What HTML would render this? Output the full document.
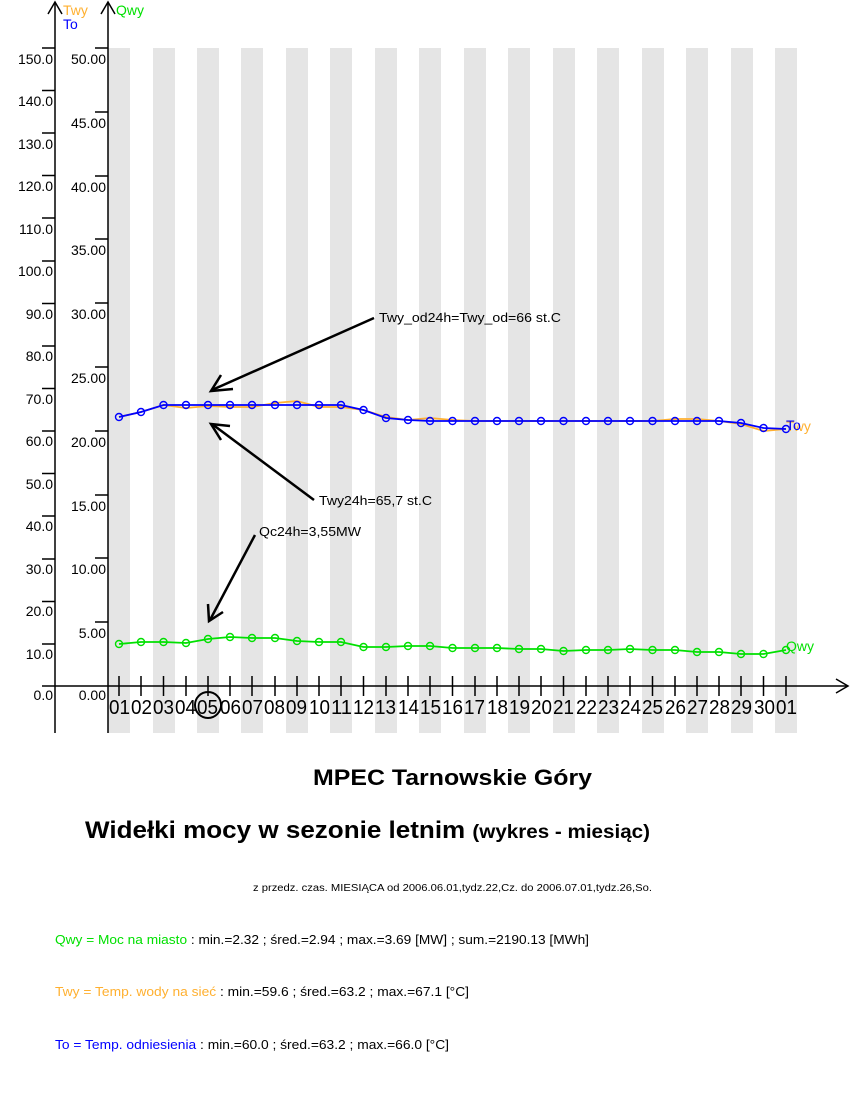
<!DOCTYPE html>
<html><head><meta charset="utf-8"><style>
body{margin:0;background:#fff;width:850px;height:1100px;overflow:hidden}
svg{display:block}
text{font-family:"Liberation Sans",sans-serif}
</style></head><body>
<svg width="850" height="1100" xmlns="http://www.w3.org/2000/svg">
<g fill="#e5e5e5">
<rect x="108" y="48" width="22" height="685"/><rect x="153" y="48" width="22" height="685"/><rect x="197" y="48" width="22" height="685"/><rect x="241" y="48" width="22" height="685"/><rect x="286" y="48" width="22" height="685"/><rect x="330" y="48" width="22" height="685"/><rect x="375" y="48" width="22" height="685"/><rect x="419" y="48" width="22" height="685"/><rect x="464" y="48" width="22" height="685"/><rect x="508" y="48" width="22" height="685"/><rect x="553" y="48" width="22" height="685"/><rect x="597" y="48" width="22" height="685"/><rect x="642" y="48" width="22" height="685"/><rect x="686" y="48" width="22" height="685"/><rect x="731" y="48" width="22" height="685"/><rect x="775" y="48" width="22" height="685"/>
</g>
<g stroke="#000" stroke-width="1.5" fill="none">
<line x1="55" y1="2" x2="55" y2="733"/><polyline points="48,14 55,2 62,14"/>
<line x1="108" y1="2" x2="108" y2="733"/><polyline points="101,14 108,2 115,14"/>
<line x1="42" y1="686" x2="848" y2="686"/><polyline points="836,679 848,686 836,693"/>
<path d="M42 48H55M42 90.5H55M42 133H55M42 175.5H55M42 218H55M42 261H55M42 303.5H55M42 346H55M42 388.5H55M42 431H55M42 473.5H55M42 516H55M42 559H55M42 601.5H55M42 644H55"/>
<path d="M95 48H108M95 112H108M95 176H108M95 239H108M95 303H108M95 367H108M95 431H108M95 495H108M95 558H108M95 622H108"/>
<path d="M119 676V696M141 676V696M163.5 676V696M186 676V696M208 676V696M230 676V696M252 676V696M275 676V696M297 676V696M319 676V696M341 676V696M363.5 676V696M386 676V696M408 676V696M430 676V696M452.5 676V696M475 676V696M497 676V696M519 676V696M541 676V696M563.5 676V696M586 676V696M608 676V696M630 676V696M652.5 676V696M675 676V696M697 676V696M719 676V696M741 676V696M763.5 676V696M786 676V696"/>
</g>
<g font-size="14" text-anchor="end" fill="#000">
<text x="53" y="64">150.0</text><text x="53" y="106">140.0</text><text x="53" y="149">130.0</text><text x="53" y="191">120.0</text><text x="53" y="234">110.0</text><text x="53" y="276">100.0</text><text x="53" y="319">90.0</text><text x="53" y="361">80.0</text><text x="53" y="404">70.0</text><text x="53" y="446">60.0</text><text x="53" y="489">50.0</text><text x="53" y="531">40.0</text><text x="53" y="574">30.0</text><text x="53" y="616">20.0</text><text x="53" y="659">10.0</text><text x="53" y="700">0.0</text>
<text x="106" y="64">50.00</text><text x="106" y="128">45.00</text><text x="106" y="192">40.00</text><text x="106" y="255">35.00</text><text x="106" y="319">30.00</text><text x="106" y="383">25.00</text><text x="106" y="447">20.00</text><text x="106" y="511">15.00</text><text x="106" y="574">10.00</text><text x="106" y="638">5.00</text><text x="106" y="700">0.00</text>
</g>
<text x="63" y="15" font-size="14" fill="#ffb030">Twy</text>
<text x="63" y="29" font-size="14" fill="#0000ff">To</text>
<text x="116" y="15" font-size="14" fill="#00e000">Qwy</text>
<g font-size="20" fill="#000">
<text x="109" y="714" textLength="21" lengthAdjust="spacingAndGlyphs">01</text><text x="131" y="714" textLength="21" lengthAdjust="spacingAndGlyphs">02</text><text x="153" y="714" textLength="21" lengthAdjust="spacingAndGlyphs">03</text><text x="175" y="714" textLength="21" lengthAdjust="spacingAndGlyphs">04</text><text x="197" y="714" textLength="21" lengthAdjust="spacingAndGlyphs">05</text><text x="220" y="714" textLength="21" lengthAdjust="spacingAndGlyphs">06</text><text x="242" y="714" textLength="21" lengthAdjust="spacingAndGlyphs">07</text><text x="264" y="714" textLength="21" lengthAdjust="spacingAndGlyphs">08</text><text x="286" y="714" textLength="21" lengthAdjust="spacingAndGlyphs">09</text><text x="309" y="714" textLength="21" lengthAdjust="spacingAndGlyphs">10</text><text x="331" y="714" textLength="21" lengthAdjust="spacingAndGlyphs">11</text><text x="353" y="714" textLength="21" lengthAdjust="spacingAndGlyphs">12</text><text x="375" y="714" textLength="21" lengthAdjust="spacingAndGlyphs">13</text><text x="398" y="714" textLength="21" lengthAdjust="spacingAndGlyphs">14</text><text x="420" y="714" textLength="21" lengthAdjust="spacingAndGlyphs">15</text><text x="442" y="714" textLength="21" lengthAdjust="spacingAndGlyphs">16</text><text x="464" y="714" textLength="21" lengthAdjust="spacingAndGlyphs">17</text><text x="487" y="714" textLength="21" lengthAdjust="spacingAndGlyphs">18</text><text x="509" y="714" textLength="21" lengthAdjust="spacingAndGlyphs">19</text><text x="531" y="714" textLength="21" lengthAdjust="spacingAndGlyphs">20</text><text x="553" y="714" textLength="21" lengthAdjust="spacingAndGlyphs">21</text><text x="576" y="714" textLength="21" lengthAdjust="spacingAndGlyphs">22</text><text x="598" y="714" textLength="21" lengthAdjust="spacingAndGlyphs">23</text><text x="620" y="714" textLength="21" lengthAdjust="spacingAndGlyphs">24</text><text x="642" y="714" textLength="21" lengthAdjust="spacingAndGlyphs">25</text><text x="665" y="714" textLength="21" lengthAdjust="spacingAndGlyphs">26</text><text x="687" y="714" textLength="21" lengthAdjust="spacingAndGlyphs">27</text><text x="709" y="714" textLength="21" lengthAdjust="spacingAndGlyphs">28</text><text x="731" y="714" textLength="21" lengthAdjust="spacingAndGlyphs">29</text><text x="754" y="714" textLength="21" lengthAdjust="spacingAndGlyphs">30</text><text x="776" y="714" textLength="21" lengthAdjust="spacingAndGlyphs">01</text>
</g>
<circle cx="208" cy="705" r="13" fill="none" stroke="#000" stroke-width="2"/>
<g fill="none" stroke-width="1.8">
<polyline stroke="#ffb030" points="119,417 141,412 163.5,405 186,408 208,406 230,407 252,407 275,403 297,401 319,407 341,407 363.5,410 386,417 408,420 430,418 452.5,420 475,421 497,421 519,421 541,421 563.5,421 586,421 608,421 630,421 652.5,421 675,419 697,419 719,421 741,424 763.5,431 786,429"/>
<polyline stroke="#0000ff" points="119,417 141,412 163.5,405 186,405 208,405 230,405 252,405 275,405 297,405 319,405 341,405 363.5,410 386,418 408,420 430,421 452.5,421 475,421 497,421 519,421 541,421 563.5,421 586,421 608,421 630,421 652.5,421 675,421 697,421 719,421 741,423 763.5,428 786,429"/>
<polyline stroke="#00e000" points="119,644 141,642 163.5,642 186,643 208,639 230,637 252,638 275,638 297,641 319,642 341,642 363.5,647 386,647 408,646 430,646 452.5,648 475,648 497,648 519,649 541,649 563.5,651 586,650 608,650 630,649 652.5,650 675,650 697,652 719,652 741,654 763.5,654 786,650"/>
</g>
<g fill="none" stroke-width="1.4">
<g stroke="#0000ff">
<circle cx="119" cy="417" r="3.5"/><circle cx="141" cy="412" r="3.5"/><circle cx="163.5" cy="405" r="3.5"/><circle cx="186" cy="405" r="3.5"/><circle cx="208" cy="405" r="3.5"/><circle cx="230" cy="405" r="3.5"/><circle cx="252" cy="405" r="3.5"/><circle cx="275" cy="405" r="3.5"/><circle cx="297" cy="405" r="3.5"/><circle cx="319" cy="405" r="3.5"/><circle cx="341" cy="405" r="3.5"/><circle cx="363.5" cy="410" r="3.5"/><circle cx="386" cy="418" r="3.5"/><circle cx="408" cy="420" r="3.5"/><circle cx="430" cy="421" r="3.5"/><circle cx="452.5" cy="421" r="3.5"/><circle cx="475" cy="421" r="3.5"/><circle cx="497" cy="421" r="3.5"/><circle cx="519" cy="421" r="3.5"/><circle cx="541" cy="421" r="3.5"/><circle cx="563.5" cy="421" r="3.5"/><circle cx="586" cy="421" r="3.5"/><circle cx="608" cy="421" r="3.5"/><circle cx="630" cy="421" r="3.5"/><circle cx="652.5" cy="421" r="3.5"/><circle cx="675" cy="421" r="3.5"/><circle cx="697" cy="421" r="3.5"/><circle cx="719" cy="421" r="3.5"/><circle cx="741" cy="423" r="3.5"/><circle cx="763.5" cy="428" r="3.5"/><circle cx="786" cy="429" r="3.5"/>
</g>
<g stroke="#00e000">
<circle cx="119" cy="644" r="3.5"/><circle cx="141" cy="642" r="3.5"/><circle cx="163.5" cy="642" r="3.5"/><circle cx="186" cy="643" r="3.5"/><circle cx="208" cy="639" r="3.5"/><circle cx="230" cy="637" r="3.5"/><circle cx="252" cy="638" r="3.5"/><circle cx="275" cy="638" r="3.5"/><circle cx="297" cy="641" r="3.5"/><circle cx="319" cy="642" r="3.5"/><circle cx="341" cy="642" r="3.5"/><circle cx="363.5" cy="647" r="3.5"/><circle cx="386" cy="647" r="3.5"/><circle cx="408" cy="646" r="3.5"/><circle cx="430" cy="646" r="3.5"/><circle cx="452.5" cy="648" r="3.5"/><circle cx="475" cy="648" r="3.5"/><circle cx="497" cy="648" r="3.5"/><circle cx="519" cy="649" r="3.5"/><circle cx="541" cy="649" r="3.5"/><circle cx="563.5" cy="651" r="3.5"/><circle cx="586" cy="650" r="3.5"/><circle cx="608" cy="650" r="3.5"/><circle cx="630" cy="649" r="3.5"/><circle cx="652.5" cy="650" r="3.5"/><circle cx="675" cy="650" r="3.5"/><circle cx="697" cy="652" r="3.5"/><circle cx="719" cy="652" r="3.5"/><circle cx="741" cy="654" r="3.5"/><circle cx="763.5" cy="654" r="3.5"/><circle cx="786" cy="650" r="3.5"/>
</g>
</g>
<text x="786" y="431" font-size="14" fill="#ffb030">Twy</text>
<text x="786" y="430" font-size="14" fill="#0000ff">To</text>
<text x="786" y="651" font-size="14" fill="#00e000">Qwy</text>
<g stroke="#000" stroke-width="2.5" fill="none">
<line x1="374" y1="318" x2="212" y2="390"/><polyline points="221,375 211,391 233,389"/>
<line x1="314" y1="500" x2="212" y2="424"/><polyline points="221,440 211,424 230,426"/>
<line x1="255" y1="535" x2="210" y2="620"/><polyline points="208,604 209,621 223,612"/>
</g>
<g font-size="13" fill="#000">
<text x="379" y="322" textLength="182" lengthAdjust="spacingAndGlyphs">Twy_od24h=Twy_od=66 st.C</text>
<text x="319" y="505" textLength="113" lengthAdjust="spacingAndGlyphs">Twy24h=65,7 st.C</text>
<text x="259" y="536" textLength="102" lengthAdjust="spacingAndGlyphs">Qc24h=3,55MW</text>
</g>
<text x="313" y="785" font-size="22" font-weight="bold" textLength="279" lengthAdjust="spacingAndGlyphs">MPEC Tarnowskie Góry</text>
<text x="85" y="838" font-size="24" font-weight="bold" textLength="565" lengthAdjust="spacingAndGlyphs">Widełki mocy w sezonie letnim <tspan font-size="19">(wykres - miesiąc)</tspan></text>
<text x="253" y="891" font-size="10" textLength="399" lengthAdjust="spacingAndGlyphs">z przedz. czas. MIESIĄCA od 2006.06.01,tydz.22,Cz. do 2006.07.01,tydz.26,So.</text>
<text x="55" y="944" font-size="13" textLength="534" lengthAdjust="spacingAndGlyphs"><tspan fill="#00e000">Qwy = Moc na miasto</tspan> : min.=2.32 ; śred.=2.94 ; max.=3.69 [MW] ; sum.=2190.13 [MWh]</text>
<text x="55" y="996" font-size="13" textLength="414" lengthAdjust="spacingAndGlyphs"><tspan fill="#ffb030">Twy = Temp. wody na sieć</tspan> : min.=59.6 ; śred.=63.2 ; max.=67.1 [°C]</text>
<text x="55" y="1049" font-size="13" textLength="394" lengthAdjust="spacingAndGlyphs"><tspan fill="#0000ff">To = Temp. odniesienia</tspan> : min.=60.0 ; śred.=63.2 ; max.=66.0 [°C]</text>
</svg>
</body></html>
